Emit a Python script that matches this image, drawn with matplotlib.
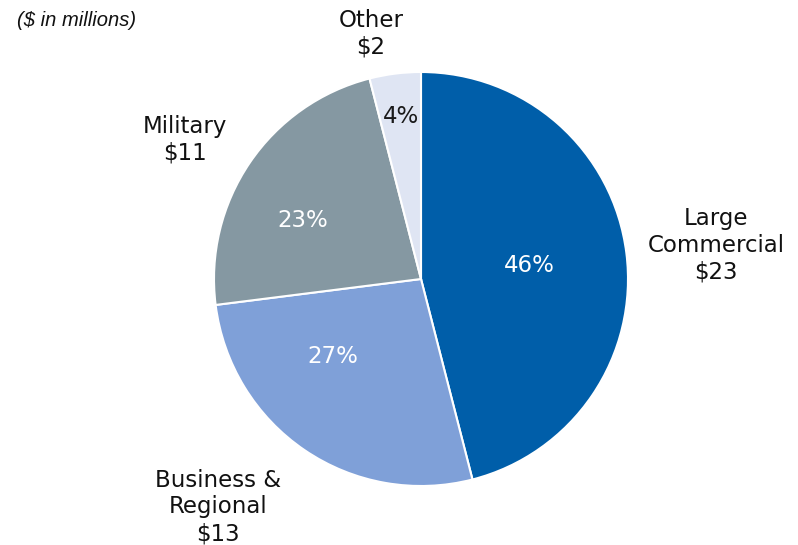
import matplotlib
matplotlib.use("Agg")
import matplotlib.pyplot as plt

# revenue split, $ in millions
segments = ["Large\nCommercial", "Business &\nRegional", "Military", "Other"]
dollars = [23, 13, 11, 2]
shares = [46, 27, 23, 4]

colors = ["#005EA9", "#7FA0D8", "#8598A2", "#DFE5F3"]
pct_colors = ["white", "white", "white", "#1a1a1a"]

# text placement (data units, pie radius = 1)
name_pos = [(1.425, 0.164), (-0.981, -1.101), (-1.140, 0.671), (-0.242, 1.184)]
pct_pos = [(0.522, 0.063), (-0.425, -0.372), (-0.570, 0.285), (-0.097, 0.787)]

W, H = 798, 545
cx, cy, r = 421, 279, 207

fig = plt.figure(figsize=(W / 100, H / 100), dpi=100)
ax = fig.add_axes([(cx - r) / W, (H - cy - r) / H, 2 * r / W, 2 * r / H])

ax.pie(shares, colors=colors, startangle=90, counterclock=False,
       wedgeprops=dict(edgecolor="white", linewidth=1.5))
ax.set_xlim(-1, 1)
ax.set_ylim(-1, 1)
ax.set_aspect("equal")
ax.axis("off")

for name, val, (x, y) in zip(segments, dollars, name_pos):
    ax.text(x, y, f"{name}\n${val}", ha="center", va="center",
            fontsize=16.5, color="#111111", linespacing=1.2, clip_on=False)

for pct, c, (x, y) in zip(shares, pct_colors, pct_pos):
    ax.text(x, y, f"{pct}%", ha="center", va="center", fontsize=16.5, color=c)

fig.text(17 / W, 1 - 20 / H, "($ in millions)", ha="left", va="center",
         fontsize=14.5, style="italic", family="Liberation Sans", color="#111111")

fig.savefig("out.png", dpi=100)
